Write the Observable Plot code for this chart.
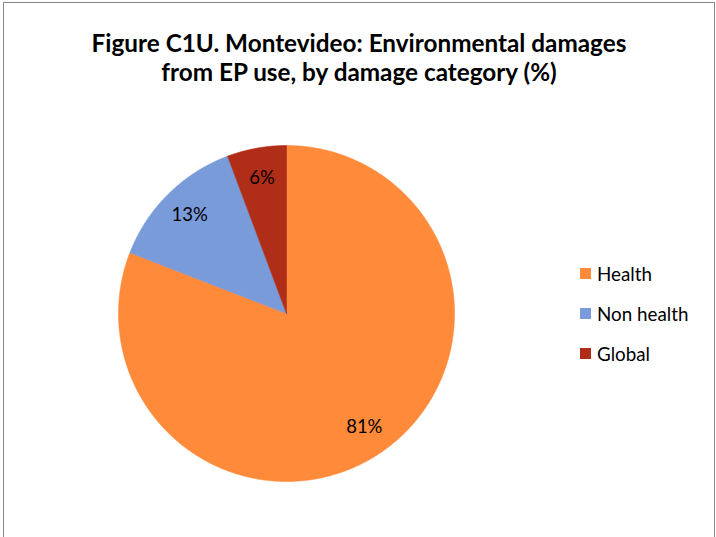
<!DOCTYPE html>
<html>
<head>
<meta charset="utf-8">
<script src="https://cdn.jsdelivr.net/npm/d3@7"></script>
<script src="https://cdn.jsdelivr.net/npm/@observablehq/plot@0.6"></script>
<style>
  html, body { margin: 0; padding: 0; background: #fff; }
  #wrap { position: relative; width: 716px; height: 537px; overflow: hidden; font-family: Lato, "Open Sans", sans-serif; }
  #frame { position: absolute; left: 2.5px; top: 1.5px; width: 712px; height: 600px; border: 1.5px solid #878787; box-sizing: border-box; }
  #title { position: absolute; left: 0; width: 718px; top: 28px; text-align: center; font-weight: bold; font-size: 24.3px; line-height: 29px; color: #000; }
  #chart { position: absolute; left: 0; top: 0; }
  #legend { position: absolute; left: 580px; top: 253px; }
  .item { display: flex; align-items: center; height: 40.3px; font-size: 18.8px; color: #000; }
  .sw { width: 11px; height: 11px; margin-right: 6px; }
</style>
</head>
<body>
<div id="wrap">
  <div id="frame"></div>
  <div id="chart"></div>
  <div id="title">Figure C1U. Montevideo: Environmental damages<br>from EP use, by damage category (%)</div>
  <div id="legend"></div>
</div>
<script>
const categories = ["Health", "Non health", "Global"];
const values = [80.9, 13.4, 5.7];
const labelTexts = ["81%", "13%", "6%"];
const colors = ["#FF8A3A", "#7A9BDA", "#B02E17"];

const W = 716, H = 537, cx = 286, cy = 313, R = 168;

const arcs = d3.pie().sort(null).value(d => d.value)(
  categories.map((c, i) => ({ category: c, value: values[i], label: labelTexts[i] }))
);

function slicePoints(a) {
  const pts = [{ x: 0, y: 0 }];
  const n = Math.max(2, Math.ceil((a.endAngle - a.startAngle) / 0.005));
  for (let k = 0; k <= n; k++) {
    const t = a.startAngle + (a.endAngle - a.startAngle) * k / n;
    pts.push({ x: Math.sin(t), y: Math.cos(t) });
  }
  pts.push({ x: 0, y: 0 });
  return pts;
}

const labels = arcs.map(a => {
  const m = (a.startAngle + a.endAngle) / 2;
  return { x: 0.82 * Math.sin(m), y: 0.82 * Math.cos(m), text: a.data.label };
});

const marks = arcs.map((a, i) =>
  Plot.line(slicePoints(a), { x: "x", y: "y", fill: colors[i], stroke: colors[i], strokeWidth: 0.6, curve: "linear" })
);
marks.push(Plot.text(labels, { x: "x", y: "y", text: "text", fontSize: 18.5, fill: "#000", fontFamily: "Lato, 'Open Sans', sans-serif" }));

const chart = Plot.plot({
  width: W,
  height: H,
  margin: 0,
  x: { domain: [-cx / R, (W - cx) / R], range: [0, W], axis: null },
  y: { domain: [-(H - cy) / R, cy / R], range: [H, 0], axis: null },
  style: { background: "transparent" },
  marks
});
document.getElementById("chart").appendChild(chart);

const legend = document.getElementById("legend");
categories.forEach((c, i) => {
  const it = document.createElement("div");
  it.className = "item";
  const sw = document.createElement("div");
  sw.className = "sw";
  sw.style.background = colors[i];
  const tx = document.createElement("span");
  tx.textContent = c;
  it.appendChild(sw);
  it.appendChild(tx);
  legend.appendChild(it);
});
</script>
</body>
</html>
